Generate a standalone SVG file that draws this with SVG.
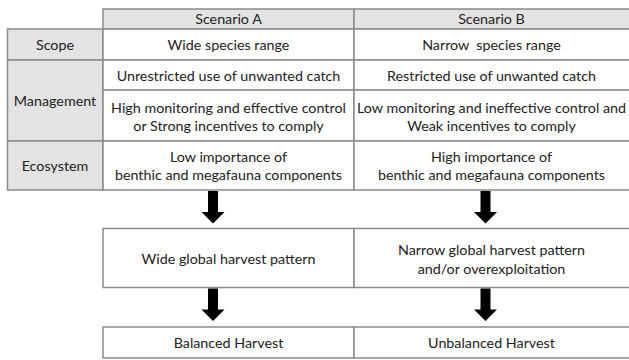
<svg xmlns="http://www.w3.org/2000/svg" width="629" height="360" viewBox="0 0 629 360">
<style>
.cell{fill:#ffffff;stroke:#8a8a8a;stroke-width:1.5}
.hdr{fill:#e3e3e3;stroke:#8a8a8a;stroke-width:1.5}
text{font-family:Lato,"Open Sans",sans-serif;font-size:14.3px;fill:#222;text-anchor:middle;dominant-baseline:central}
.arrow{fill:#000}
</style>
<rect width="629" height="360" fill="#ffffff"/>
<g id="header">
<rect class="hdr" x="103" y="9" width="251" height="20"/>
<rect class="hdr" x="354" y="9" width="277" height="20"/>
<text x="228.5" y="18.5">Scenario A</text>
<text x="491.5" y="18.5">Scenario B</text>
</g>
<g id="scope">
<rect class="hdr" x="7.5" y="29" width="95.5" height="31"/>
<text x="55" y="44">Scope</text>
<rect class="cell" x="103" y="29" width="251" height="31"/>
<text x="228.5" y="44">Wide species range</text>
<rect class="cell" x="354" y="29" width="277" height="31"/>
<text x="491.5" y="44">Narrow&#160; species range</text>
</g>
<g id="management">
<rect class="hdr" x="7.5" y="60" width="95.5" height="81"/>
<text x="55" y="100">Management</text>
<rect class="cell" x="103" y="60" width="251" height="30"/>
<text x="228.5" y="75">Unrestricted use of unwanted catch</text>
<rect class="cell" x="354" y="60" width="277" height="30"/>
<text x="491.5" y="75">Restricted use of unwanted catch</text>
<rect class="cell" x="103" y="90" width="251" height="51"/>
<text x="228.5" y="107">High monitoring and effective control</text>
<text x="228.5" y="125">or Strong incentives to comply</text>
<rect class="cell" x="354" y="90" width="277" height="51"/>
<text x="491.5" y="107">Low monitoring and ineffective control and</text>
<text x="491.5" y="125">Weak incentives to comply</text>
</g>
<g id="ecosystem">
<rect class="hdr" x="7.5" y="141" width="95.5" height="49"/>
<text x="55" y="165.5">Ecosystem</text>
<rect class="cell" x="103" y="141" width="251" height="49"/>
<text x="228.5" y="156.5">Low importance of</text>
<text x="228.5" y="174.5">benthic and megafauna components</text>
<rect class="cell" x="354" y="141" width="277" height="49"/>
<text x="491.5" y="156.5">High importance of</text>
<text x="491.5" y="174.5">benthic and megafauna components</text>
</g>
<g id="pattern">
<rect class="cell" x="103" y="228.5" width="251" height="59"/>
<text x="228.5" y="258">Wide global harvest pattern</text>
<rect class="cell" x="354" y="228.5" width="277" height="59"/>
<text x="491.5" y="249.5">Narrow global harvest pattern</text>
<text x="491.5" y="268">and/or overexploitation</text>
</g>
<g id="outcome">
<rect class="cell" x="103" y="327" width="251" height="31"/>
<text x="228.5" y="342.5">Balanced Harvest</text>
<rect class="cell" x="354" y="327" width="277" height="31"/>
<text x="491.5" y="342.5">Unbalanced Harvest</text>
</g>
<g id="connectors">
<polygon class="arrow" points="208,191 218,191 218,212 224.5,212 213,223.5 201.5,212 208,212"/>
<polygon class="arrow" points="480.5,191 490.5,191 490.5,212 497,212 485.5,223.5 474,212 480.5,212"/>
<polygon class="arrow" points="208,288.5 218,288.5 218,309.5 224.5,309.5 213,321 201.5,309.5 208,309.5"/>
<polygon class="arrow" points="480.5,288.5 490.5,288.5 490.5,309.5 497,309.5 485.5,321 474,309.5 480.5,309.5"/>
</g>
</svg>
